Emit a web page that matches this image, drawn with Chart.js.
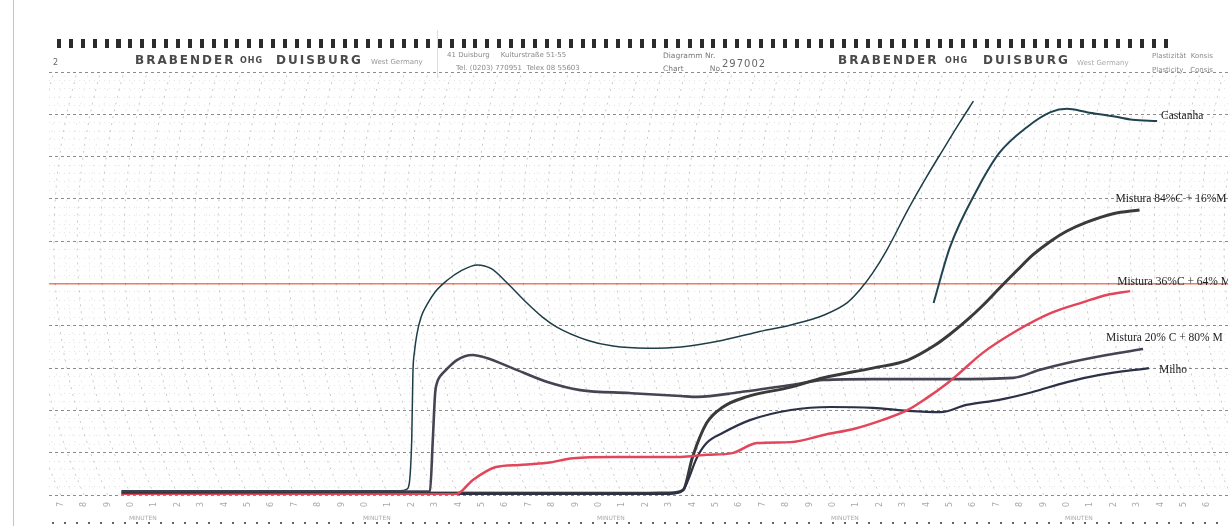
<!DOCTYPE html>
<html lang="pt">
<head>
  <meta charset="UTF-8" />
  <title>Brabender 297002</title>
  <script src="https://cdn.jsdelivr.net/npm/chart.js"></script>
  <style>
    html, body { margin: 0; padding: 0; background: #fff; }
    #sheet { position: relative; width: 1228px; height: 526px; overflow: hidden; background: #fff; font-family: "DejaVu Sans", sans-serif; }
    #sheet canvas { position: absolute; left: 0; top: 0; }
    .t { position: absolute; white-space: nowrap; line-height: 1; }
    .brand { font-weight: bold; font-size: 12px; letter-spacing: 2px; color: #4a4a4a; }
    .ohg { font-weight: bold; font-size: 8px; letter-spacing: 1px; color: #4a4a4a; }
    .small { font-size: 7px; color: #8a8a8a; }
    .holes { position: absolute; left: 57px; top: 39px; width: 1118px; height: 9px;
      background: repeating-linear-gradient(90deg, #2b2b2b 0 4px, transparent 4px 11.9px); }
    .dots { position: absolute; left: 52px; top: 522px; width: 1176px; height: 2px;
      background: repeating-linear-gradient(90deg, #666 0 2px, transparent 2px 12px); }
    .edge { position: absolute; left: 13px; top: 0; width: 1px; height: 526px; background: #c4c4c4; }
    .sep { position: absolute; left: 437px; top: 30px; width: 1px; height: 48px; background: #ddd; }
  </style>
</head>
<body>
<div id="sheet">
  <canvas id="chart" width="1228" height="526"></canvas>

  <!-- paper header -->
  <div class="edge"></div>
  <div class="holes"></div>
  <div class="sep"></div>
  <div class="t small" style="left:53px;top:59px;font-size:8px;color:#666">2</div>
  <div class="t brand" style="left:135px;top:54px">BRABENDER</div>
  <div class="t ohg" style="left:240px;top:57px">OHG</div>
  <div class="t brand" style="left:276px;top:54px">DUISBURG</div>
  <div class="t small" style="left:371px;top:59px;color:#999">West Germany</div>
  <div class="t small" style="left:447px;top:52px">41 Duisburg &nbsp;&nbsp;&nbsp; Kulturstraße 51-55</div>
  <div class="t small" style="left:456px;top:65px">Tel. (0203) 770951 &nbsp;Telex 08 55603</div>
  <div class="t small" style="left:663px;top:52px;font-size:7.5px;color:#777">Diagramm Nr.</div>
  <div class="t small" style="left:663px;top:65px;font-size:7.5px;color:#777">Chart &nbsp;&nbsp;&nbsp;&nbsp;&nbsp;&nbsp;&nbsp;&nbsp;&nbsp; No.</div>
  <div class="t" style="left:722px;top:59px;font-size:10px;letter-spacing:1px;color:#666">297002</div>
  <div class="t brand" style="left:838px;top:54px">BRABENDER</div>
  <div class="t ohg" style="left:945px;top:57px">OHG</div>
  <div class="t brand" style="left:983px;top:54px">DUISBURG</div>
  <div class="t small" style="left:1077px;top:60px;color:#aaa">West Germany</div>
  <div class="t small" style="left:1152px;top:53px">Plastizität &nbsp;Konsis</div>
  <div class="t small" style="left:1152px;top:67px">Plasticity &nbsp;&nbsp;Consis</div>
  <div class="dots"></div>
</div>

<script>
  // axis ranges (minutes, Brabender units)
  const xMin = -3.5, xMax = 46.88;
  const yMin = 0, yMax = 1000;

  // Castanha (pen trace goes off the top, then restarts)
  const castanhaT  = [-0.4, 11.5, 11.8, 12.0, 12.05, 12.12, 12.22, 12.4, 12.65, 13.0, 13.5, 14.1, 14.8, 15.4, 16.1, 16.9, 17.6, 18.2, 19.5, 20.6, 22.05, 23.5, 25.3, 26.75, 28.2, 29.6, 30.6, 31.15, 31.7, 32.3, 33.2, 34.0, 34.7, 35.4, 36.0];
  const castanhaBU = [10, 10, 14, 130, 288, 340, 380, 421, 450, 480, 507, 530, 544, 535, 500, 455, 420, 397, 366, 352, 347, 350, 366, 385, 402, 425, 454, 485, 525, 579, 674, 752, 816, 879, 931];
  const castanhaT2  = [34.3, 35.0, 36.15, 37.1, 38.3, 39.3, 40.0, 40.85, 42.1, 42.8, 43.85];
  const castanhaBU2 = [454, 586, 721, 808, 870, 905, 913, 905, 894, 887, 884];

  // Mistura 84%C + 16%M
  const m84T  = [-0.4, 21.75, 23.0, 23.6, 24.0, 24.6, 25.3, 26.3, 28.2, 29.6, 31.7, 33.2, 34.3, 35.0, 35.7, 36.4, 37.1, 37.85, 38.55, 39.3, 40.0, 40.85, 41.97, 43.1];
  const m84BU = [5, 4, 5, 12, 90, 170, 208, 232, 255, 277, 300, 319, 352, 380, 412, 448, 488, 530, 568, 600, 624, 645, 665, 674];

  // Mistura 36%C + 64%M
  const m36T  = [-0.4, 13.9, 14.6, 15.6, 16.6, 17.8, 18.9, 20.6, 23.5, 24.6, 25.7, 26.75, 28.2, 29.6, 31.0, 32.1, 33.2, 34.0, 34.9, 35.4, 36.4, 37.9, 39.3, 40.7, 41.7, 42.7];
  const m36BU = [0, 2, 35, 66, 71, 76, 87, 90, 90, 95, 99, 123, 125, 142, 158, 177, 201, 229, 265, 288, 336, 390, 430, 456, 473, 482];

  // Mistura 20%C + 80%M
  const m20T  = [-0.4, 12.56, 12.78, 12.9, 13.0, 13.08, 13.18, 13.33, 13.93, 14.6, 15.2, 16.3, 17.8, 19.2, 21.3, 23.5, 24.2, 26.0, 28.2, 29.6, 31.7, 35.0, 37.7, 38.85, 40.0, 41.7, 43.25];
  const m20BU = [8, 8, 9, 130, 241, 265, 278, 288, 319, 331, 324, 300, 267, 248, 241, 234, 232, 243, 260, 272, 274, 274, 277, 296, 312, 331, 345];

  // Milho
  const milhoT  = [-0.4, 22.6, 23.25, 23.6, 24.2, 24.6, 25.3, 26.45, 28.2, 29.9, 31.7, 33.2, 34.6, 35.7, 37.1, 38.5, 40.0, 41.4, 43.5];
  const milhoBU = [3, 2, 4, 12, 90, 123, 147, 177, 201, 208, 206, 199, 196, 213, 225, 243, 267, 284, 300];

  const seriesNames = ['Mistura 36%C + 64% M', 'Milho', 'Mistura 84%C + 16%M', 'Mistura 20% C + 80% M', 'Castanha', 'Castanha'];
  const refLineBU = 500;

  const pts = (ts, vs) => ts.map((t, i) => ({ x: t, y: vs[i] }));

  // where each curve's name sits, relative to its last point
  const nameOffsets = [[-13, -9], [10, 2], [-24, -11], [-37, -11], null, [4, -5]];

  const curveNames = {
    id: 'curveNames',
    afterDatasetsDraw(chart) {
      const ctx = chart.ctx;
      ctx.save();
      ctx.font = '11.5px "Liberation Serif", serif';
      ctx.fillStyle = '#1e1e1e';
      ctx.textBaseline = 'middle';
      chart.data.datasets.forEach((ds, i) => {
        const off = nameOffsets[i];
        if (!off) return;
        const meta = chart.getDatasetMeta(i);
        const last = meta.data[meta.data.length - 1];
        ctx.fillText(ds.label, last.x + off[0], last.y + off[1]);
      });
      ctx.restore();
    }
  };

  // curved time lines of the recorder paper + MINUTEN marks
  const paperArcs = {
    id: 'paperArcs',
    beforeDatasetsDraw(chart) {
      const { ctx, chartArea: a, scales: { x, y } } = chart;
      const R = 627;
      const yc = y.getPixelForValue(600);
      const dB = a.bottom - yc;
      const off = Math.sqrt(R * R - dB * dB);
      ctx.save();
      ctx.beginPath();
      ctx.rect(a.left, a.top, a.right - a.left, a.bottom - a.top);
      ctx.clip();
      ctx.setLineDash([2, 5]);
      ctx.lineWidth = 1;
      for (let t = Math.ceil(x.min * 2) / 2; t <= x.max + 3; t += 0.5) {
        const cx = x.getPixelForValue(t) + off;
        ctx.strokeStyle = Number.isInteger(t) ? 'rgba(0,0,0,0.22)' : 'rgba(0,0,0,0.09)';
        ctx.beginPath();
        ctx.arc(cx, yc, R, Math.PI - Math.asin(dB / R), Math.PI + Math.asin((yc - a.top) / R));
        ctx.stroke();
      }
      ctx.restore();
    },
    afterDraw(chart) {
      const { ctx, scales: { x } } = chart;
      ctx.save();
      ctx.font = '6px "DejaVu Sans", sans-serif';
      ctx.fillStyle = '#aaa';
      ctx.textBaseline = 'middle';
      for (let t = 0; t <= x.max; t += 10) {
        ctx.fillText('MINUTEN', x.getPixelForValue(t) - 2, 518);
      }
      ctx.restore();
    }
  };

  const line = (label, data, color, width) => ({
    label, data,
    borderColor: color,
    borderWidth: width,
    pointRadius: 0,
    cubicInterpolationMode: 'monotone',
    fill: false
  });

  new Chart(document.getElementById('chart'), {
    type: 'line',
    data: {
      datasets: [
        line(seriesNames[0], pts(m36T, m36BU), '#e2465a', 2.5),
        line(seriesNames[1], pts(milhoT, milhoBU), '#2c3048', 2.2),
        line(seriesNames[2], pts(m84T, m84BU), '#3a3a3a', 3),
        line(seriesNames[3], pts(m20T, m20BU), '#454452', 2.6),
        line(seriesNames[4], pts(castanhaT, castanhaBU), '#1d3e48', 1.5),
        line(seriesNames[5], pts(castanhaT2, castanhaBU2), '#1f4450', 2)
      ]
    },
    options: {
      responsive: false,
      devicePixelRatio: 1,
      animation: false,
      parsing: false,
      layout: { padding: { left: 49, top: 72, right: 0, bottom: 3 } },
      plugins: { legend: { display: false }, tooltip: { enabled: false } },
      scales: {
        x: {
          type: 'linear',
          min: xMin,
          max: xMax,
          afterFit(s) { s.height = 28; },
          grid: { display: false, drawTicks: false },
          border: { display: false },
          ticks: {
            stepSize: 1,
            includeBounds: false,
            autoSkip: false,
            minRotation: 90,
            maxRotation: 90,
            padding: 7,
            color: '#a8a8a8',
            font: { size: 8, family: 'DejaVu Sans' },
            callback: v => Number.isInteger(v) ? String(((v % 10) + 10) % 10) : ''
          }
        },
        y: {
          type: 'linear',
          min: yMin,
          max: yMax,
          afterFit(s) { s.width = 0; },
          ticks: { display: false, stepSize: 20 },
          grid: {
            drawTicks: false,
            color: c => c.tick.value === refLineBU ? 'rgba(240,110,80,0.9)'
              : c.tick.value % 100 === 0 ? 'rgba(45,45,45,0.55)' : 'rgba(0,0,0,0.1)',
            lineWidth: c => c.tick.value === refLineBU ? 1.5 : 1
          },
          border: {
            display: false,
            dash: c => c.tick.value === refLineBU ? [] : c.tick.value % 100 === 0 ? [3, 3] : [1, 4]
          }
        }
      }
    },
    plugins: [paperArcs, curveNames]
  });
</script>
</body>
</html>
